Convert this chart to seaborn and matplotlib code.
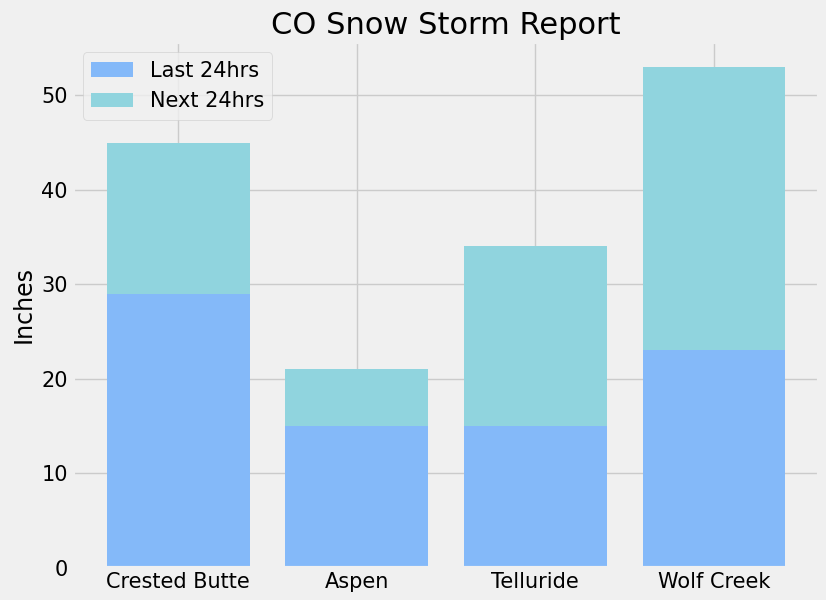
import numpy as np
import pandas as pd
import matplotlib
matplotlib.use('Agg')
import matplotlib.pyplot as plt
import seaborn as sb

resorts = ['Crested Butte', 'Aspen', 'Telluride', 'Wolf Creek']
last_24 = [29, 15, 15, 23]
next_24 = [16, 6, 19, 30]

plt.style.use('fivethirtyeight')

df = pd.DataFrame({'resort': resorts, 'last': last_24, 'next': next_24})

fig, ax = plt.subplots(figsize=(8.26, 6), dpi=100)
fig.patch.set_facecolor('#f0f0f0')

sb.barplot(data=df, x='resort', y='last', color='#84b9f9', saturation=1,
           width=0.8, label='Last 24hrs', ax=ax)
sb.barplot(data=df, x='resort', y='next', color='#90d4de', saturation=1,
           width=0.8, bottom=df['last'], label='Next 24hrs', ax=ax)

ax.set_xlim(-0.59, 3.59)
ax.set_ylim(0, 55.65)
ax.set_title('CO Snow Storm Report', fontsize=22)
ax.set_ylabel('Inches', fontsize=17)
ax.set_xlabel('')
ax.tick_params(labelsize=15)
ax.grid(True, axis='both')
ax.set_axisbelow(True)
ax.legend(loc='upper left', fontsize=15)

plt.subplots_adjust(left=0.088, right=0.992, bottom=0.054, top=0.93)
plt.savefig('out.png', dpi=100, facecolor=fig.get_facecolor())
